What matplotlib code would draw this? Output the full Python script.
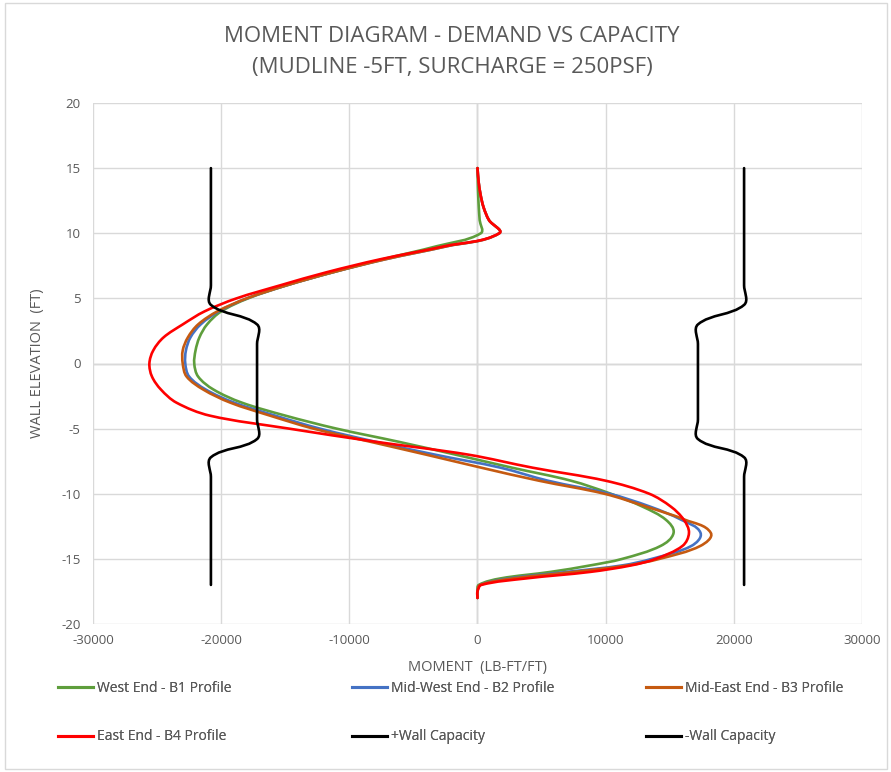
import numpy as np
import matplotlib
matplotlib.use('Agg')
import matplotlib.pyplot as plt
from matplotlib import font_manager
from matplotlib.path import Path
from matplotlib.patches import PathPatch, Rectangle
from matplotlib.lines import Line2D

# pick a font close to Calibri
names = {f.name for f in font_manager.fontManager.ttflist}
font = 'DejaVu Sans'
for cand in ['Liberation Sans Narrow', 'Open Sans', 'Lato']:
    if cand in names:
        font = cand
        break
plt.rcParams['font.family'] = [font, 'DejaVu Sans']
plt.rcParams['axes.unicode_minus'] = False

# ---- data (elevation in ft, moment in lb-ft/ft) ----
elev = [15, 14, 13, 12, 11, 10, 9, 8, 7, 6, 5, 4, 3, 2, 1, 0, -1, -2, -3, -4, -5, -6,
        -7, -8, -9, -10, -11, -12, -13, -14, -15, -15.5, -16, -16.5, -17, -17.5, -18]

west_b1 = [0, 20, 50, 100, 170, 260, -3200, -7400, -11300, -14900, -17900, -20000, -21100,
           -21700, -22000, -22100, -21800, -20600, -18400, -15000, -11000, -6200, -1700, 2700,
           7300, 10400, 12900, 14700, 15300, 14300, 11300, 8800, 5700, 1800, 100, 0, 0]
midwest_b2 = [0, 80, 230, 470, 900, 1700, -2400, -7200, -11300, -14900, -18000, -20200, -21600,
              -22400, -22750, -22800, -22500, -21200, -19000, -15800, -12300, -8000, -3300, 1800,
              5500, 10300, 13500, 15900, 17400, 16700, 13600, 11300, 7000, 2500, 200, 0, 0]
mideast_b3 = [0, 80, 230, 470, 900, 1700, -2400, -7200, -11300, -14900, -18000, -20300, -21800,
              -22600, -23000, -23000, -22700, -21400, -19300, -16200, -12800, -8400, -4000, 300,
              4800, 9900, 13200, 16200, 18200, 17400, 14200, 11700, 7500, 2800, 200, 0, 0]
east_b4 = [0, 80, 230, 470, 900, 1700, -2600, -7600, -11800, -15400, -18800, -21300, -23000,
           -24500, -25300, -25600, -25400, -24700, -23500, -20900, -14700, -8000, -700, 4300,
           10000, 13400, 15100, 16100, 16500, 16000, 13900, 12000, 8800, 3800, 300, 0, 0]

cap_elev = [15, 10, 6, 4.5, 3.0, 1.5, 0, -4.3, -5.8, -7.2, -8.7, -10, -15, -17]
cap_plus = [20800, 20800, 20800, 20800, 17200, 17200, 17200, 17200, 17200, 20800, 20800,
            20800, 20800, 20800]
cap_minus = [-v for v in cap_plus]

series = [
    ('West End - B1 Profile', west_b1, elev, '#5E9E3C'),
    ('Mid-West End - B2 Profile', midwest_b2, elev, '#4472C4'),
    ('Mid-East End - B3 Profile', mideast_b3, elev, '#C55A11'),
    ('East End - B4 Profile', east_b4, elev, '#FF0000'),
    ('+Wall Capacity', cap_plus, cap_elev, '#000000'),
    ('-Wall Capacity', cap_minus, cap_elev, '#000000'),
]

W, H = 891, 772
fig = plt.figure(figsize=(W / 100, H / 100), dpi=100)
ax = fig.add_axes([93 / W, 1 - 624 / H, 769 / W, 521 / H])
ax.set_xlim(-30000, 30000)
ax.set_ylim(-20, 20)

# pixel scale of the axes, used to smooth lines like a spreadsheet "smoothed line"
sx = 769 / 60000.0
sy = 521 / 40.0


def smooth_path(xs, ys):
    p = np.column_stack([np.asarray(xs, float) * sx, np.asarray(ys, float) * sy])
    n = len(p)
    verts = [p[0]]
    codes = [Path.MOVETO]
    for i in range(n - 1):
        p0 = p[max(i - 1, 0)]
        p1 = p[i]
        p2 = p[i + 1]
        p3 = p[min(i + 2, n - 1)]
        d = np.hypot(*(p2 - p1))
        t1 = p2 - p0
        t2 = p3 - p1
        if np.hypot(*t1) > 0:
            t1 = t1 / np.hypot(*t1)
        if np.hypot(*t2) > 0:
            t2 = t2 / np.hypot(*t2)
        verts += [p1 + t1 * d / 3, p2 - t2 * d / 3, p2]
        codes += [Path.CURVE4] * 3
    verts = np.array(verts)
    verts[:, 0] /= sx
    verts[:, 1] /= sy
    return Path(verts, codes)


handles = []
for label, xs, ys, col in series:
    lw = 1.9
    patch = PathPatch(smooth_path(xs, ys), fill=False, edgecolor=col, lw=lw,
                      capstyle='round', joinstyle='round', zorder=3)
    ax.add_patch(patch)
    handles.append(Line2D([], [], color=col, lw=2.2, label=label))

# grid / axes styling
ax.set_xticks(np.arange(-30000, 30001, 10000))
ax.set_yticks(np.arange(-20, 21, 5))
ax.grid(True, color='#D9D9D9', lw=1.0, zorder=0)
ax.axhline(0, color='#BFBFBF', lw=1.0, zorder=1)
ax.axvline(0, color='#BFBFBF', lw=1.0, zorder=1)
for s in ax.spines.values():
    s.set_visible(False)
ax.tick_params(length=0, colors='#595959', labelsize=9.5)
ax.tick_params(axis='x', pad=7)
ax.tick_params(axis='y', pad=9)

ax.set_xlabel('MOMENT  (LB-FT/FT)', color='#595959', fontsize=10.5, va='center')
ax.xaxis.set_label_coords(0.5, -(668 - 624) / 521)
ax.set_ylabel('WALL ELEVATION  (FT)', color='#595959', fontsize=10.5, va='center')
ax.yaxis.set_label_coords(-(93 - 38) / 769, 0.5)

fig.text(452 / W, 1 - 36 / H, 'MOMENT DIAGRAM - DEMAND VS CAPACITY', ha='center', va='center',
         color='#595959', fontsize=16)
fig.text(452 / W, 1 - 68 / H, '(MUDLINE -5FT, SURCHARGE = 250PSF)', ha='center', va='center',
         color='#595959', fontsize=16)

# legend laid out in a 3 x 2 grid, row by row
leg_x = [58, 352, 646]
leg_y = [688, 737]
for k, h in enumerate(handles):
    col, row = k % 3, k // 3
    lg = fig.legend(handles=[h], loc='center left',
                    bbox_to_anchor=(leg_x[col] / W, 1 - leg_y[row] / H),
                    frameon=False, fontsize=10, labelcolor='#595959',
                    handlelength=2.5, handletextpad=0.3, borderpad=0, borderaxespad=0)
    fig.add_artist(lg)

# outer chart border
fig.patches.append(Rectangle((0.006, 0.004), 0.99, 0.992, transform=fig.transFigure,
                             fill=False, edgecolor='#D9D9D9', lw=1.0))

fig.savefig('out.png', dpi=100)
